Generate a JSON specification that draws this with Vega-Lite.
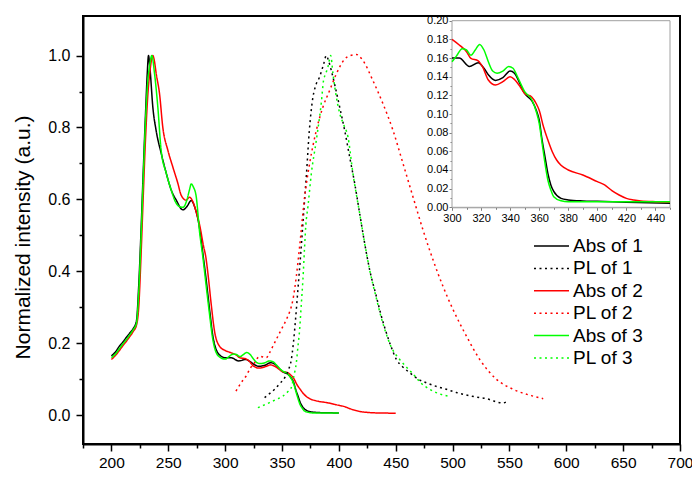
{
  "$schema": "https://vega.github.io/schema/vega-lite/v6.json",
  "width": 597,
  "height": 428,
  "autosize": "none",
  "padding": {"left": 83, "top": 16, "right": 12, "bottom": 39},
  "background": "white",
  "config": {
    "view": {"stroke": "black", "strokeWidth": 2},
    "font": "Liberation Sans",
    "axis": {"grid": false, "domainColor": "black", "tickColor": "black", "labelColor": "black", "labelFont": "Liberation Sans", "titleFont": "Liberation Sans", "labelFlush": false, "labelOverlap": false, "labelBound": false}
  },
  "datasets": {
    "curves": [
      {"s":"Abs of 1","x":200,"y":0.165},{"s":"Abs of 1","x":204,"y":0.178},{"s":"Abs of 1","x":207,"y":0.192},{"s":"Abs of 1","x":210,"y":0.203},{"s":"Abs of 1","x":213,"y":0.216},{"s":"Abs of 1","x":216,"y":0.228},{"s":"Abs of 1","x":219,"y":0.24},{"s":"Abs of 1","x":222,"y":0.262},{"s":"Abs of 1","x":224,"y":0.36},{"s":"Abs of 1","x":226,"y":0.51},{"s":"Abs of 1","x":228,"y":0.68},{"s":"Abs of 1","x":230,"y":0.84},{"s":"Abs of 1","x":231.5,"y":0.95},{"s":"Abs of 1","x":232.6,"y":1.0},{"s":"Abs of 1","x":234,"y":0.96},{"s":"Abs of 1","x":236.4,"y":0.857},{"s":"Abs of 1","x":239.4,"y":0.79},{"s":"Abs of 1","x":243.8,"y":0.728},{"s":"Abs of 1","x":248.2,"y":0.673},{"s":"Abs of 1","x":252.6,"y":0.626},{"s":"Abs of 1","x":257,"y":0.598},{"s":"Abs of 1","x":262.8,"y":0.571},{"s":"Abs of 1","x":266.3,"y":0.58},{"s":"Abs of 1","x":270.2,"y":0.597},{"s":"Abs of 1","x":273.1,"y":0.58},{"s":"Abs of 1","x":277.5,"y":0.52},{"s":"Abs of 1","x":280.4,"y":0.45},{"s":"Abs of 1","x":283.3,"y":0.377},{"s":"Abs of 1","x":286.3,"y":0.294},{"s":"Abs of 1","x":289.2,"y":0.22},{"s":"Abs of 1","x":292.1,"y":0.183},{"s":"Abs of 1","x":296.5,"y":0.164},{"s":"Abs of 1","x":300,"y":0.16},{"s":"Abs of 1","x":305,"y":0.16},{"s":"Abs of 1","x":312,"y":0.151},{"s":"Abs of 1","x":318,"y":0.155},{"s":"Abs of 1","x":322,"y":0.149},{"s":"Abs of 1","x":325,"y":0.142},{"s":"Abs of 1","x":330,"y":0.136},{"s":"Abs of 1","x":335,"y":0.139},{"s":"Abs of 1","x":340,"y":0.146},{"s":"Abs of 1","x":343,"y":0.1436},{"s":"Abs of 1","x":346,"y":0.135},{"s":"Abs of 1","x":350,"y":0.122},{"s":"Abs of 1","x":355,"y":0.114},{"s":"Abs of 1","x":358,"y":0.104},{"s":"Abs of 1","x":360,"y":0.0936},{"s":"Abs of 1","x":362,"y":0.072},{"s":"Abs of 1","x":364,"y":0.054},{"s":"Abs of 1","x":366,"y":0.036},{"s":"Abs of 1","x":368,"y":0.024},{"s":"Abs of 1","x":370,"y":0.017},{"s":"Abs of 1","x":375,"y":0.0096},{"s":"Abs of 1","x":380,"y":0.0079},{"s":"Abs of 1","x":390,"y":0.0068},{"s":"Abs of 1","x":400,"y":0.0064},{"s":"Abs of 1","x":420,"y":0.0054},{"s":"Abs of 1","x":450,"y":0.0043},
      {"s":"Abs of 2","x":200,"y":0.155},{"s":"Abs of 2","x":204,"y":0.168},{"s":"Abs of 2","x":207,"y":0.18},{"s":"Abs of 2","x":210,"y":0.193},{"s":"Abs of 2","x":213,"y":0.205},{"s":"Abs of 2","x":216,"y":0.218},{"s":"Abs of 2","x":219,"y":0.232},{"s":"Abs of 2","x":222,"y":0.25},{"s":"Abs of 2","x":224,"y":0.3},{"s":"Abs of 2","x":226,"y":0.44},{"s":"Abs of 2","x":228,"y":0.61},{"s":"Abs of 2","x":230,"y":0.77},{"s":"Abs of 2","x":232,"y":0.89},{"s":"Abs of 2","x":234,"y":0.96},{"s":"Abs of 2","x":236.4,"y":1.0},{"s":"Abs of 2","x":237.5,"y":0.99},{"s":"Abs of 2","x":239.4,"y":0.949},{"s":"Abs of 2","x":242.3,"y":0.894},{"s":"Abs of 2","x":245.2,"y":0.8},{"s":"Abs of 2","x":249.6,"y":0.737},{"s":"Abs of 2","x":254,"y":0.69},{"s":"Abs of 2","x":258.4,"y":0.645},{"s":"Abs of 2","x":261.3,"y":0.612},{"s":"Abs of 2","x":265.7,"y":0.598},{"s":"Abs of 2","x":268.6,"y":0.606},{"s":"Abs of 2","x":272.1,"y":0.59},{"s":"Abs of 2","x":275,"y":0.56},{"s":"Abs of 2","x":277.5,"y":0.53},{"s":"Abs of 2","x":281,"y":0.47},{"s":"Abs of 2","x":283,"y":0.44},{"s":"Abs of 2","x":285,"y":0.39},{"s":"Abs of 2","x":287.7,"y":0.31},{"s":"Abs of 2","x":290.6,"y":0.235},{"s":"Abs of 2","x":295,"y":0.192},{"s":"Abs of 2","x":300,"y":0.18},{"s":"Abs of 2","x":305,"y":0.174},{"s":"Abs of 2","x":310,"y":0.1668},{"s":"Abs of 2","x":313,"y":0.1596},{"s":"Abs of 2","x":318,"y":0.157},{"s":"Abs of 2","x":321,"y":0.1507},{"s":"Abs of 2","x":325,"y":0.1364},{"s":"Abs of 2","x":330,"y":0.131},{"s":"Abs of 2","x":335,"y":0.1346},{"s":"Abs of 2","x":340,"y":0.14},{"s":"Abs of 2","x":343,"y":0.137},{"s":"Abs of 2","x":347,"y":0.129},{"s":"Abs of 2","x":350,"y":0.122},{"s":"Abs of 2","x":355,"y":0.118},{"s":"Abs of 2","x":358,"y":0.111},{"s":"Abs of 2","x":360,"y":0.104},{"s":"Abs of 2","x":363,"y":0.086},{"s":"Abs of 2","x":366,"y":0.072},{"s":"Abs of 2","x":369,"y":0.0596},{"s":"Abs of 2","x":372,"y":0.0507},{"s":"Abs of 2","x":375,"y":0.045},{"s":"Abs of 2","x":380,"y":0.04},{"s":"Abs of 2","x":390,"y":0.0346},{"s":"Abs of 2","x":400,"y":0.0275},{"s":"Abs of 2","x":405,"y":0.024},{"s":"Abs of 2","x":410,"y":0.0179},{"s":"Abs of 2","x":415,"y":0.0132},{"s":"Abs of 2","x":420,"y":0.0096},{"s":"Abs of 2","x":425,"y":0.0079},{"s":"Abs of 2","x":430,"y":0.0068},{"s":"Abs of 2","x":440,"y":0.006},{"s":"Abs of 2","x":450,"y":0.0057},
      {"s":"Abs of 3","x":200,"y":0.16},{"s":"Abs of 3","x":204,"y":0.172},{"s":"Abs of 3","x":207,"y":0.185},{"s":"Abs of 3","x":210,"y":0.198},{"s":"Abs of 3","x":213,"y":0.21},{"s":"Abs of 3","x":216,"y":0.223},{"s":"Abs of 3","x":219,"y":0.237},{"s":"Abs of 3","x":222,"y":0.255},{"s":"Abs of 3","x":224,"y":0.34},{"s":"Abs of 3","x":226,"y":0.49},{"s":"Abs of 3","x":228,"y":0.66},{"s":"Abs of 3","x":230,"y":0.82},{"s":"Abs of 3","x":232,"y":0.93},{"s":"Abs of 3","x":233.5,"y":0.97},{"s":"Abs of 3","x":235.5,"y":1.0},{"s":"Abs of 3","x":237.9,"y":0.95},{"s":"Abs of 3","x":240.8,"y":0.857},{"s":"Abs of 3","x":243.7,"y":0.737},{"s":"Abs of 3","x":248.2,"y":0.673},{"s":"Abs of 3","x":252.6,"y":0.626},{"s":"Abs of 3","x":256,"y":0.595},{"s":"Abs of 3","x":259.9,"y":0.58},{"s":"Abs of 3","x":263,"y":0.578},{"s":"Abs of 3","x":266.3,"y":0.598},{"s":"Abs of 3","x":268.5,"y":0.625},{"s":"Abs of 3","x":270.2,"y":0.643},{"s":"Abs of 3","x":272,"y":0.635},{"s":"Abs of 3","x":274.6,"y":0.607},{"s":"Abs of 3","x":277.5,"y":0.51},{"s":"Abs of 3","x":280.4,"y":0.44},{"s":"Abs of 3","x":283.3,"y":0.36},{"s":"Abs of 3","x":286.3,"y":0.28},{"s":"Abs of 3","x":289.2,"y":0.21},{"s":"Abs of 3","x":292,"y":0.175},{"s":"Abs of 3","x":296,"y":0.16},{"s":"Abs of 3","x":300,"y":0.156},{"s":"Abs of 3","x":303,"y":0.162},{"s":"Abs of 3","x":307,"y":0.17},{"s":"Abs of 3","x":310,"y":0.1686},{"s":"Abs of 3","x":313,"y":0.163},{"s":"Abs of 3","x":316,"y":0.1686},{"s":"Abs of 3","x":319,"y":0.1746},{"s":"Abs of 3","x":322,"y":0.1686},{"s":"Abs of 3","x":325,"y":0.156},{"s":"Abs of 3","x":328,"y":0.146},{"s":"Abs of 3","x":331,"y":0.1436},{"s":"Abs of 3","x":335,"y":0.146},{"s":"Abs of 3","x":339,"y":0.151},{"s":"Abs of 3","x":342,"y":0.149},{"s":"Abs of 3","x":345,"y":0.14},{"s":"Abs of 3","x":350,"y":0.124},{"s":"Abs of 3","x":355,"y":0.115},{"s":"Abs of 3","x":358,"y":0.1025},{"s":"Abs of 3","x":360,"y":0.09},{"s":"Abs of 3","x":362,"y":0.0686},{"s":"Abs of 3","x":364,"y":0.047},{"s":"Abs of 3","x":366,"y":0.029},{"s":"Abs of 3","x":368,"y":0.0186},{"s":"Abs of 3","x":370,"y":0.0114},{"s":"Abs of 3","x":375,"y":0.007},{"s":"Abs of 3","x":380,"y":0.006},{"s":"Abs of 3","x":400,"y":0.006},{"s":"Abs of 3","x":450,"y":0.006},
      {"s":"PL of 1","x":334.7,"y":0.049},{"s":"PL of 1","x":339,"y":0.06},{"s":"PL of 1","x":343.5,"y":0.072},{"s":"PL of 1","x":348,"y":0.088},{"s":"PL of 1","x":352.3,"y":0.104},{"s":"PL of 1","x":355.5,"y":0.125},{"s":"PL of 1","x":358.2,"y":0.155},{"s":"PL of 1","x":360,"y":0.2},{"s":"PL of 1","x":362,"y":0.27},{"s":"PL of 1","x":364,"y":0.35},{"s":"PL of 1","x":366.5,"y":0.45},{"s":"PL of 1","x":369,"y":0.56},{"s":"PL of 1","x":371.5,"y":0.67},{"s":"PL of 1","x":374,"y":0.79},{"s":"PL of 1","x":377,"y":0.88},{"s":"PL of 1","x":380,"y":0.92},{"s":"PL of 1","x":383,"y":0.94},{"s":"PL of 1","x":386.5,"y":0.975},{"s":"PL of 1","x":389,"y":1.0},{"s":"PL of 1","x":391,"y":0.985},{"s":"PL of 1","x":393.4,"y":0.958},{"s":"PL of 1","x":396.3,"y":0.92},{"s":"PL of 1","x":400.7,"y":0.857},{"s":"PL of 1","x":405.1,"y":0.792},{"s":"PL of 1","x":409.5,"y":0.718},{"s":"PL of 1","x":413.9,"y":0.645},{"s":"PL of 1","x":418.3,"y":0.561},{"s":"PL of 1","x":422.7,"y":0.478},{"s":"PL of 1","x":427.1,"y":0.404},{"s":"PL of 1","x":433,"y":0.33},{"s":"PL of 1","x":437.4,"y":0.275},{"s":"PL of 1","x":441.8,"y":0.229},{"s":"PL of 1","x":446,"y":0.19},{"s":"PL of 1","x":450.6,"y":0.155},{"s":"PL of 1","x":456,"y":0.135},{"s":"PL of 1","x":462.3,"y":0.118},{"s":"PL of 1","x":470,"y":0.1},{"s":"PL of 1","x":477,"y":0.09},{"s":"PL of 1","x":486,"y":0.08},{"s":"PL of 1","x":494.6,"y":0.072},{"s":"PL of 1","x":503.4,"y":0.063},{"s":"PL of 1","x":510,"y":0.058},{"s":"PL of 1","x":517,"y":0.053},{"s":"PL of 1","x":524,"y":0.049},{"s":"PL of 1","x":530,"y":0.046},{"s":"PL of 1","x":535.6,"y":0.04},{"s":"PL of 1","x":540,"y":0.036},{"s":"PL of 1","x":544,"y":0.034},{"s":"PL of 1","x":547.4,"y":0.037},
      {"s":"PL of 2","x":309.5,"y":0.067},{"s":"PL of 2","x":314,"y":0.09},{"s":"PL of 2","x":318.6,"y":0.11},{"s":"PL of 2","x":322,"y":0.13},{"s":"PL of 2","x":325.9,"y":0.146},{"s":"PL of 2","x":330.3,"y":0.164},{"s":"PL of 2","x":336.2,"y":0.16},{"s":"PL of 2","x":339.1,"y":0.174},{"s":"PL of 2","x":342,"y":0.192},{"s":"PL of 2","x":347.9,"y":0.229},{"s":"PL of 2","x":353.8,"y":0.266},{"s":"PL of 2","x":357,"y":0.29},{"s":"PL of 2","x":359.6,"y":0.321},{"s":"PL of 2","x":362.6,"y":0.386},{"s":"PL of 2","x":365.5,"y":0.469},{"s":"PL of 2","x":369.9,"y":0.607},{"s":"PL of 2","x":374.3,"y":0.7},{"s":"PL of 2","x":380.2,"y":0.792},{"s":"PL of 2","x":386,"y":0.857},{"s":"PL of 2","x":391.9,"y":0.903},{"s":"PL of 2","x":397.8,"y":0.949},{"s":"PL of 2","x":405.1,"y":0.99},{"s":"PL of 2","x":410,"y":1.0},{"s":"PL of 2","x":415.4,"y":1.003},{"s":"PL of 2","x":421.2,"y":0.986},{"s":"PL of 2","x":430,"y":0.93},{"s":"PL of 2","x":438.8,"y":0.866},{"s":"PL of 2","x":447.6,"y":0.792},{"s":"PL of 2","x":456.4,"y":0.7},{"s":"PL of 2","x":465.2,"y":0.607},{"s":"PL of 2","x":474,"y":0.515},{"s":"PL of 2","x":482.8,"y":0.432},{"s":"PL of 2","x":491.6,"y":0.358},{"s":"PL of 2","x":500.4,"y":0.294},{"s":"PL of 2","x":512.2,"y":0.22},{"s":"PL of 2","x":523.9,"y":0.155},{"s":"PL of 2","x":538.6,"y":0.1},{"s":"PL of 2","x":553.3,"y":0.072},{"s":"PL of 2","x":570.9,"y":0.053},{"s":"PL of 2","x":579.7,"y":0.046},
      {"s":"PL of 3","x":328.8,"y":0.021},{"s":"PL of 3","x":334,"y":0.028},{"s":"PL of 3","x":339,"y":0.035},{"s":"PL of 3","x":345,"y":0.044},{"s":"PL of 3","x":350.8,"y":0.053},{"s":"PL of 3","x":355,"y":0.065},{"s":"PL of 3","x":358.2,"y":0.077},{"s":"PL of 3","x":360.5,"y":0.11},{"s":"PL of 3","x":362.6,"y":0.146},{"s":"PL of 3","x":364,"y":0.19},{"s":"PL of 3","x":365.5,"y":0.238},{"s":"PL of 3","x":367,"y":0.31},{"s":"PL of 3","x":368.4,"y":0.377},{"s":"PL of 3","x":369.9,"y":0.47},{"s":"PL of 3","x":371,"y":0.53},{"s":"PL of 3","x":372.8,"y":0.58},{"s":"PL of 3","x":375.8,"y":0.672},{"s":"PL of 3","x":380.2,"y":0.765},{"s":"PL of 3","x":384.6,"y":0.87},{"s":"PL of 3","x":386.5,"y":0.93},{"s":"PL of 3","x":388.5,"y":0.95},{"s":"PL of 3","x":390.5,"y":0.97},{"s":"PL of 3","x":392.8,"y":1.0},{"s":"PL of 3","x":394.8,"y":0.95},{"s":"PL of 3","x":397,"y":0.9},{"s":"PL of 3","x":400.7,"y":0.84},{"s":"PL of 3","x":404,"y":0.81},{"s":"PL of 3","x":408,"y":0.774},{"s":"PL of 3","x":412.4,"y":0.672},{"s":"PL of 3","x":418.3,"y":0.561},{"s":"PL of 3","x":422.7,"y":0.478},{"s":"PL of 3","x":427.1,"y":0.404},{"s":"PL of 3","x":433,"y":0.325},{"s":"PL of 3","x":437.4,"y":0.27},{"s":"PL of 3","x":441.8,"y":0.225},{"s":"PL of 3","x":446,"y":0.19},{"s":"PL of 3","x":453.5,"y":0.155},{"s":"PL of 3","x":459,"y":0.135},{"s":"PL of 3","x":465.2,"y":0.115},{"s":"PL of 3","x":472,"y":0.09},{"s":"PL of 3","x":480,"y":0.072},{"s":"PL of 3","x":488,"y":0.06},{"s":"PL of 3","x":496,"y":0.053}
    ]
  },
  "data": {"name": "curves"},
  "layer": [
    {
      "transform": [{"filter": "datum.s == 'Abs of 2' || indexof(datum.s, 'PL') == 0 || datum.x <= 400"}],
      "mark": {"type": "line", "strokeWidth": 1.5, "interpolate": "monotone", "clip": true},
      "encoding": {
        "x": {"field": "x", "type": "quantitative", "scale": {"domain": [175, 700], "nice": false, "zero": false},
              "axis": {"orient": "bottom", "values": [200,250,300,350,400,450,500,550,600,650,700], "title": null, "tickSize": 7, "tickWidth": 1.5, "domainWidth": 2, "labelFontSize": 15.5, "labelPadding": 4}},
        "y": {"field": "y", "type": "quantitative", "scale": {"domain": [-0.08, 1.11], "nice": false, "zero": false},
              "axis": {"orient": "left", "values": [0,0.2,0.4,0.6,0.8,1.0], "format": ".1f", "title": "Normalized intensity (a.u.)", "tickSize": 7, "tickWidth": 1.5, "domainWidth": 2, "labelFontSize": 16, "labelPadding": 6, "titleFontSize": 21, "titleFontWeight": "normal", "titleX": -60, "titleY": 221, "titleAngle": 270, "titleAlign": "center", "titleBaseline": "middle"}},
        "color": {"field": "s", "type": "nominal",
                  "scale": {"domain": ["Abs of 1","PL of 1","Abs of 2","PL of 2","Abs of 3","PL of 3"], "range": ["#000000","#000000","#ff0000","#ff0000","#00ff00","#00ff00"]},
                  "legend": {"orient": "none", "legendX": 457.5, "legendY": 219, "padding": 0, "title": null, "symbolType": "M-1.75,0H1.75", "symbolSize": 400, "symbolStrokeWidth": 1.5, "labelFontSize": 19, "labelFont": "Liberation Sans", "labelColor": "black", "labelOffset": 10.5, "rowPadding": 1.4, "labelLimit": 200}},
        "strokeDash": {"field": "s", "type": "nominal",
                  "scale": {"domain": ["Abs of 1","PL of 1","Abs of 2","PL of 2","Abs of 3","PL of 3"], "range": [[1,0],[2,3.5],[1,0],[2,3.5],[1,0],[2,3.5]]},
                  "legend": {"orient": "none", "legendX": 457.5, "legendY": 219, "padding": 0, "title": null, "symbolType": "M-1.75,0H1.75", "symbolSize": 400, "symbolStrokeWidth": 1.5, "labelFontSize": 19, "labelFont": "Liberation Sans", "labelColor": "black", "labelOffset": 10.5, "rowPadding": 1.4, "labelLimit": 200}}
      }
    },
    {
      "mark": {"type": "point", "opacity": 0},
      "encoding": {
        "x": {"field": "x", "type": "quantitative", "scale": {"domain": [175, 700], "nice": false, "zero": false},
              "axis": {"orient": "bottom", "values": [175,225,275,325,375,425,475,525,575,625,675], "labels": false, "domain": false, "title": null, "tickSize": 4, "tickWidth": 1.5}},
        "y": {"field": "y", "type": "quantitative", "scale": {"domain": [-0.08, 1.11], "nice": false, "zero": false},
              "axis": {"orient": "left", "values": [0.1,0.3,0.5,0.7,0.9], "labels": false, "domain": false, "title": null, "tickSize": 4, "tickWidth": 1.5}}
      }
    },
    {
      "data": {"values": [{}]},
      "mark": {"type": "rect", "fill": "white", "stroke": "#a0a0a0", "strokeWidth": 1},
      "encoding": {
        "x": {"datum": 300, "type": "quantitative", "scale": {"domain": [300, 450], "range": [369, 587], "nice": false, "zero": false}, "axis": null},
        "x2": {"datum": 450},
        "y": {"datum": 0, "type": "quantitative", "scale": {"domain": [0, 0.2], "range": [191.3, 4.7], "nice": false, "zero": false}, "axis": null},
        "y2": {"datum": 0.2}
      }
    },
    {
      "transform": [{"filter": "indexof(datum.s, 'Abs') == 0 && datum.x >= 300"}],
      "mark": {"type": "line", "strokeWidth": 1.5, "interpolate": "monotone"},
      "encoding": {
        "x": {"field": "x", "type": "quantitative", "scale": {"domain": [300, 450], "range": [369, 587], "nice": false, "zero": false},
              "axis": {"orient": "bottom", "offset": -236.7, "values": [300,320,340,360,380,400,420,440], "title": null, "tickSize": 3, "domainColor": "#a0a0a0", "tickColor": "#808080", "labelFontSize": 11, "labelPadding": 2}},
        "y": {"field": "y", "type": "quantitative", "scale": {"domain": [0, 0.2], "range": [191.3, 4.7], "nice": false, "zero": false},
              "axis": {"orient": "left", "offset": -369, "values": [0,0.02,0.04,0.06,0.08,0.1,0.12,0.14,0.16,0.18,0.2], "format": ".2f", "title": null, "tickSize": 3, "domainColor": "#a0a0a0", "tickColor": "#808080", "labelFontSize": 11, "labelPadding": 1}},
        "color": {"field": "s", "type": "nominal", "scale": {"domain": ["Abs of 1","Abs of 2","Abs of 3"], "range": ["#000000","#ff0000","#00ff00"]}, "legend": null}
      }
    },
    {
      "mark": {"type": "point", "opacity": 0},
      "transform": [{"filter": "indexof(datum.s, 'Abs') == 0 && datum.x >= 300"}],
      "encoding": {
        "x": {"field": "x", "type": "quantitative", "scale": {"domain": [300, 450], "range": [369, 587], "nice": false, "zero": false},
              "axis": {"orient": "bottom", "offset": -236.7, "values": [310,330,350,370,390,410,430,450], "labels": false, "domain": false, "title": null, "tickSize": 2, "tickColor": "#808080"}},
        "y": {"field": "y", "type": "quantitative", "scale": {"domain": [0, 0.2], "range": [191.3, 4.7], "nice": false, "zero": false},
              "axis": {"orient": "left", "offset": -369, "values": [0.01,0.03,0.05,0.07,0.09,0.11,0.13,0.15,0.17,0.19], "labels": false, "domain": false, "title": null, "tickSize": 2, "tickColor": "#808080"}}
      }
    }
  ],
  "resolve": {"scale": {"x": "independent", "y": "independent", "color": "independent", "strokeDash": "independent"}}
}
